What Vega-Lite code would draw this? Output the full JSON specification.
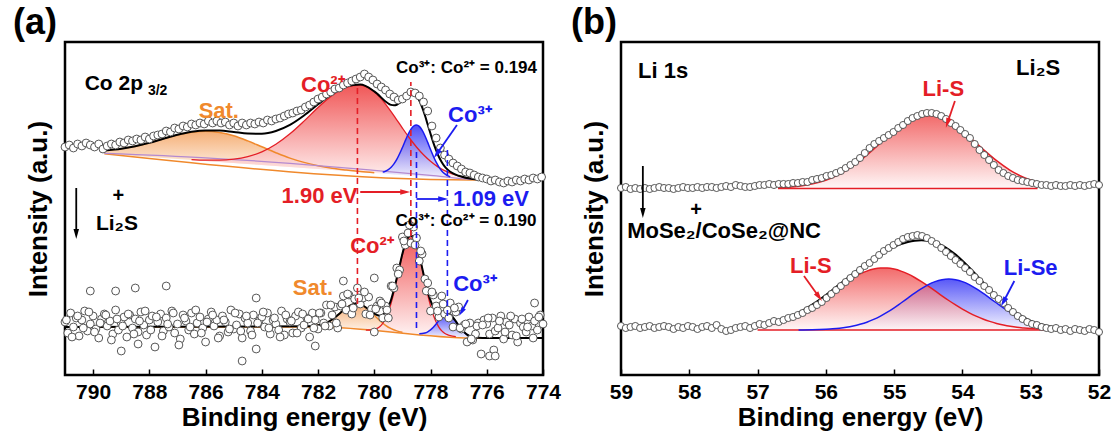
{
"$schema": "https://vega.github.io/schema/vega-lite/v6.json",
"background": "white",
"padding": {"left": 11, "top": 3, "right": 0, "bottom": 0},
"config": {"font": "Liberation Sans", "view": {"stroke": "black", "strokeWidth": 2.5},
  "axis": {"domain": false, "grid": false, "minExtent": 0, "labelFont": "Liberation Sans", "labelFontWeight": "bold", "labelFontSize": 21, "labelColor": "black", "titleFont": "Liberation Sans", "titleFontSize": 26, "titleFontWeight": "bold", "titleColor": "black", "tickColor": "black", "tickWidth": 1.5}},
"spacing": 7,
"datasets": {
"a_pts": [
{"E":791.00,"h":228},{"E":790.85,"h":230},{"E":790.70,"h":227},{"E":790.55,"h":231},{"E":790.40,"h":229},{"E":790.25,"h":232},{"E":790.10,"h":230},{"E":789.95,"h":228},{"E":789.80,"h":231},{"E":789.65,"h":226},{"E":789.50,"h":229},{"E":789.35,"h":231},{"E":789.20,"h":230},{"E":789.05,"h":233},{"E":788.90,"h":232},{"E":788.75,"h":235},{"E":788.60,"h":234},{"E":788.45,"h":236},{"E":788.30,"h":235},{"E":788.15,"h":238},{"E":788.00,"h":236},{"E":787.85,"h":239},{"E":787.70,"h":240},{"E":787.55,"h":241},{"E":787.40,"h":244},{"E":787.25,"h":243},{"E":787.10,"h":247},{"E":786.95,"h":246},{"E":786.80,"h":249},{"E":786.65,"h":248},{"E":786.50,"h":251},{"E":786.35,"h":250},{"E":786.20,"h":252},{"E":786.05,"h":251},{"E":785.90,"h":254},{"E":785.75,"h":252},{"E":785.60,"h":254},{"E":785.45,"h":252},{"E":785.30,"h":253},{"E":785.15,"h":250},{"E":785.00,"h":252},{"E":784.85,"h":249},{"E":784.70,"h":252},{"E":784.55,"h":250},{"E":784.40,"h":252},{"E":784.25,"h":251},{"E":784.10,"h":253},{"E":783.95,"h":252},{"E":783.80,"h":255},{"E":783.65,"h":254},{"E":783.50,"h":256},{"E":783.35,"h":257},{"E":783.20,"h":259},{"E":783.05,"h":261},{"E":782.90,"h":262},{"E":782.75,"h":264},{"E":782.60,"h":265},{"E":782.45,"h":268},{"E":782.30,"h":270},{"E":782.15,"h":273},{"E":782.00,"h":276},{"E":781.85,"h":278},{"E":781.70,"h":281},{"E":781.55,"h":283},{"E":781.40,"h":286},{"E":781.25,"h":287},{"E":781.10,"h":290},{"E":780.95,"h":292},{"E":780.80,"h":294},{"E":780.65,"h":296},{"E":780.50,"h":298},{"E":780.35,"h":301},{"E":780.20,"h":298},{"E":780.05,"h":295},{"E":779.90,"h":291},{"E":779.75,"h":288},{"E":779.60,"h":285},{"E":779.45,"h":281},{"E":779.30,"h":278},{"E":779.15,"h":275},{"E":779.00,"h":276},{"E":778.85,"h":279},{"E":778.70,"h":283},{"E":778.55,"h":282},{"E":778.40,"h":279},{"E":778.25,"h":273},{"E":778.10,"h":264},{"E":777.95,"h":249},{"E":777.80,"h":237},{"E":777.65,"h":227},{"E":777.50,"h":220},{"E":777.35,"h":216},{"E":777.20,"h":212},{"E":777.05,"h":209},{"E":776.90,"h":206},{"E":776.75,"h":203},{"E":776.60,"h":202},{"E":776.45,"h":200},{"E":776.30,"h":198},{"E":776.15,"h":197},{"E":776.00,"h":196},{"E":775.85,"h":194},{"E":775.70,"h":195},{"E":775.55,"h":193},{"E":775.40,"h":192},{"E":775.25,"h":194},{"E":775.10,"h":193},{"E":774.95,"h":195},{"E":774.80,"h":194},{"E":774.65,"h":196},{"E":774.50,"h":195},{"E":774.35,"h":197},{"E":774.20,"h":196},{"E":774.05,"h":198},
{"E":791.0,"h":53},{"E":790.9,"h":42},{"E":790.8,"h":62},{"E":790.7,"h":48},{"E":790.6,"h":57},{"E":790.5,"h":39},{"E":790.4,"h":55},{"E":790.3,"h":64},{"E":790.2,"h":44},{"E":790.1,"h":51},{"E":790.0,"h":59},{"E":789.9,"h":46},{"E":789.8,"h":37},{"E":789.7,"h":56},{"E":789.6,"h":61},{"E":789.5,"h":49},{"E":789.4,"h":54},{"E":789.3,"h":41},{"E":789.2,"h":65},{"E":789.1,"h":45},{"E":789.0,"h":52},{"E":788.9,"h":58},{"E":788.8,"h":38},{"E":788.7,"h":60},{"E":788.6,"h":47},{"E":788.5,"h":56},{"E":788.4,"h":43},{"E":788.3,"h":63},{"E":788.2,"h":50},{"E":788.1,"h":40},{"E":788.0,"h":55},{"E":787.9,"h":59},{"E":787.8,"h":28},{"E":787.7,"h":53},{"E":787.6,"h":61},{"E":787.5,"h":44},{"E":787.4,"h":57},{"E":787.3,"h":48},{"E":787.2,"h":64},{"E":787.1,"h":42},{"E":787.0,"h":51},{"E":786.9,"h":36},{"E":786.8,"h":60},{"E":786.7,"h":54},{"E":786.6,"h":45},{"E":786.5,"h":62},{"E":786.4,"h":41},{"E":786.3,"h":52},{"E":786.2,"h":58},{"E":786.1,"h":47},{"E":786.0,"h":33},{"E":785.9,"h":56},{"E":785.8,"h":63},{"E":785.7,"h":49},{"E":785.6,"h":55},{"E":785.5,"h":39},{"E":785.4,"h":59},{"E":785.3,"h":53},{"E":785.2,"h":43},{"E":785.1,"h":65},{"E":785.0,"h":46},{"E":784.9,"h":50},{"E":784.8,"h":61},{"E":784.7,"h":37},{"E":784.6,"h":57},{"E":784.5,"h":52},{"E":784.4,"h":44},{"E":784.3,"h":60},{"E":784.2,"h":26},{"E":784.1,"h":54},{"E":784.0,"h":58},{"E":783.9,"h":48},{"E":783.8,"h":62},{"E":783.7,"h":41},{"E":783.6,"h":55},{"E":783.5,"h":51},{"E":783.4,"h":45},{"E":783.3,"h":64},{"E":783.2,"h":40},{"E":783.1,"h":56},{"E":783.0,"h":53},{"E":782.9,"h":42},{"E":782.8,"h":59},{"E":782.7,"h":63},{"E":782.6,"h":47},{"E":782.5,"h":50},{"E":782.4,"h":57},{"E":782.3,"h":38},{"E":782.2,"h":62},{"E":782.1,"h":55},{"E":782.0,"h":46},{"E":781.9,"h":62},{"E":781.8,"h":52},{"E":781.7,"h":70},{"E":781.6,"h":49},{"E":781.5,"h":60},{"E":781.4,"h":68},{"E":781.3,"h":47},{"E":781.2,"h":69},{"E":781.1,"h":79},{"E":781.0,"h":65},{"E":780.9,"h":80},{"E":780.8,"h":61},{"E":780.7,"h":76},{"E":780.6,"h":87},{"E":780.5,"h":71},{"E":780.4,"h":77},{"E":780.3,"h":61},{"E":780.2,"h":78},{"E":780.1,"h":66},{"E":780.0,"h":43},{"E":779.9,"h":69},{"E":779.8,"h":74},{"E":779.7,"h":57},{"E":779.6,"h":69},{"E":779.5,"h":57},{"E":779.4,"h":89},{"E":779.3,"h":87},{"E":779.2,"h":107},{"E":779.1,"h":105},{"E":779.0,"h":138},{"E":778.9,"h":130},{"E":778.8,"h":142},{"E":778.7,"h":132},{"E":778.6,"h":148},{"E":778.5,"h":137},{"E":778.4,"h":114},{"E":778.3,"h":121},{"E":778.2,"h":96},{"E":778.1,"h":92},{"E":778.0,"h":64},{"E":777.9,"h":80},{"E":777.8,"h":69},{"E":777.7,"h":58},{"E":777.6,"h":79},{"E":777.5,"h":61},{"E":777.4,"h":65},{"E":777.3,"h":72},{"E":777.2,"h":48},{"E":777.1,"h":63},{"E":777.0,"h":68},{"E":776.9,"h":46},{"E":776.8,"h":50},{"E":776.7,"h":33},{"E":776.6,"h":52},{"E":776.5,"h":35},{"E":776.4,"h":41},{"E":776.3,"h":52},{"E":776.2,"h":21},{"E":776.1,"h":55},{"E":776.0,"h":51},{"E":775.9,"h":41},{"E":775.8,"h":57},{"E":775.7,"h":44},{"E":775.6,"h":47},{"E":775.5,"h":59},{"E":775.4,"h":36},{"E":775.3,"h":53},{"E":775.2,"h":50},{"E":775.1,"h":40},{"E":775.0,"h":56},{"E":774.9,"h":33},{"E":774.8,"h":52},{"E":774.7,"h":48},{"E":774.6,"h":43},{"E":774.5,"h":58},{"E":774.4,"h":49},{"E":774.3,"h":54},{"E":774.2,"h":45},{"E":774.1,"h":60},{"E":774.0,"h":51},
{"E":790.95,"h":55},{"E":790.75,"h":38},{"E":790.55,"h":59},{"E":790.35,"h":47},{"E":790.15,"h":63},{"E":789.95,"h":43},{"E":789.75,"h":52},{"E":789.55,"h":60},{"E":789.35,"h":35},{"E":789.15,"h":56},{"E":788.95,"h":49},{"E":788.75,"h":61},{"E":788.55,"h":41},{"E":788.35,"h":54},{"E":788.15,"h":64},{"E":787.95,"h":45},{"E":787.75,"h":58},{"E":787.55,"h":39},{"E":787.35,"h":51},{"E":787.15,"h":62},{"E":786.95,"h":30},{"E":786.75,"h":57},{"E":786.55,"h":48},{"E":786.35,"h":65},{"E":786.15,"h":42},{"E":785.95,"h":53},{"E":785.75,"h":60},{"E":785.55,"h":37},{"E":785.35,"h":55},{"E":785.15,"h":46},{"E":784.95,"h":62},{"E":784.75,"h":44},{"E":784.55,"h":59},{"E":784.35,"h":40},{"E":784.15,"h":52},{"E":783.95,"h":63},{"E":783.75,"h":47},{"E":783.55,"h":57},{"E":783.35,"h":38},{"E":783.15,"h":60},{"E":782.95,"h":54},{"E":782.75,"h":42},{"E":782.55,"h":61},{"E":782.35,"h":56},{"E":782.15,"h":47},{"E":781.95,"h":62},{"E":781.75,"h":49},{"E":781.55,"h":70},{"E":781.35,"h":52},{"E":781.15,"h":71},{"E":780.95,"h":81},{"E":780.75,"h":67},{"E":780.55,"h":77},{"E":780.35,"h":83},{"E":780.15,"h":60},{"E":779.95,"h":66},{"E":779.75,"h":72},{"E":779.55,"h":65},{"E":779.35,"h":89},{"E":779.15,"h":101},{"E":778.95,"h":134},{"E":778.75,"h":150},{"E":778.55,"h":130},{"E":778.35,"h":124},{"E":778.15,"h":84},{"E":777.95,"h":83},{"E":777.75,"h":64},{"E":777.55,"h":71},{"E":777.35,"h":57},{"E":777.15,"h":67},{"E":776.95,"h":47},{"E":776.75,"h":51},{"E":776.55,"h":36},{"E":776.35,"h":49},{"E":776.15,"h":50},{"E":775.95,"h":57},{"E":775.75,"h":25},{"E":775.55,"h":54},{"E":775.35,"h":43},{"E":775.15,"h":59},{"E":774.95,"h":39},{"E":774.75,"h":56},{"E":774.55,"h":48},{"E":774.35,"h":37},{"E":774.15,"h":58},
{"E":790.1,"h":84},{"E":789.2,"h":84},{"E":788.5,"h":87},{"E":787.4,"h":89},{"E":784.2,"h":77},{"E":781.1,"h":94},{"E":780.0,"h":97},{"E":774.3,"h":72},{"E":789.0,"h":24},{"E":788.4,"h":31},{"E":784.7,"h":14},{"E":782.1,"h":29},{"E":775.9,"h":19},{"E":775.7,"h":19}
],
"a_fit": [
{"c":"bgT","E":789.6,"v":221.2},{"c":"bgT","E":776.5,"v":195},{"c":"bgT","E":776.0,"v":195},
{"c":"bg2T","E":789.6,"v":221.6},{"c":"bg2T","E":786.0,"v":217.2},{"c":"bg2T","E":783.0,"v":211.6},{"c":"bg2T","E":780.0,"v":204.6},{"c":"bg2T","E":778.0,"v":199.6},{"c":"bg2T","E":776.5,"v":195.6},{"c":"bg2T","E":776.0,"v":195.3},
{"c":"satT","E":789.6,"v":224.4,"b":221.2},{"c":"satT","E":789.0,"v":226.2,"b":220},{"c":"satT","E":788.5,"v":228.7,"b":219},{"c":"satT","E":788.0,"v":232.2,"b":218},{"c":"satT","E":787.5,"v":236.2,"b":217},{"c":"satT","E":787.0,"v":240.0,"b":216},{"c":"satT","E":786.5,"v":242.8,"b":215},{"c":"satT","E":786.0,"v":243.8,"b":214},{"c":"satT","E":785.5,"v":242.6,"b":213},{"c":"satT","E":785.0,"v":239.2,"b":212},{"c":"satT","E":784.5,"v":234.1,"b":211},{"c":"satT","E":784.0,"v":228.2,"b":210},{"c":"satT","E":783.5,"v":222.3,"b":209},{"c":"satT","E":783.0,"v":216.9,"b":208},{"c":"satT","E":782.5,"v":212.6,"b":207},{"c":"satT","E":782.0,"v":209.2,"b":206},{"c":"satT","E":781.5,"v":206.7,"b":205},{"c":"satT","E":781.0,"v":204.9,"b":204},{"c":"satT","E":780.5,"v":203.4,"b":203},{"c":"satT","E":780.0,"v":202.2,"b":202},
{"c":"co2T","E":786.5,"v":215.4,"b":215},{"c":"co2T","E":786.0,"v":214.8,"b":214},{"c":"co2T","E":785.5,"v":214.8,"b":213},{"c":"co2T","E":785.0,"v":215.8,"b":212},{"c":"co2T","E":784.5,"v":218.4,"b":211},{"c":"co2T","E":784.0,"v":223.1,"b":210},{"c":"co2T","E":783.5,"v":230.7,"b":209},{"c":"co2T","E":783.0,"v":241.2,"b":208},{"c":"co2T","E":782.5,"v":253.9,"b":207},{"c":"co2T","E":782.0,"v":267.5,"b":206},{"c":"co2T","E":781.5,"v":279.6,"b":205},{"c":"co2T","E":781.0,"v":287.7,"b":204},{"c":"co2T","E":780.5,"v":290.0,"b":203},{"c":"co2T","E":780.0,"v":283.2,"b":202},{"c":"co2T","E":779.75,"v":276.1,"b":201.5},{"c":"co2T","E":779.5,"v":267.1,"b":201},{"c":"co2T","E":779.25,"v":257.2,"b":200.5},{"c":"co2T","E":779.0,"v":246.9,"b":200},{"c":"co2T","E":778.75,"v":237.0,"b":199.5},{"c":"co2T","E":778.5,"v":228.0,"b":199},{"c":"co2T","E":778.25,"v":220.2,"b":198.5},{"c":"co2T","E":778.0,"v":213.7,"b":198},{"c":"co2T","E":777.75,"v":208.4,"b":197.5},{"c":"co2T","E":777.5,"v":204.4,"b":197},{"c":"co2T","E":777.0,"v":199.0,"b":196},{"c":"co2T","E":776.5,"v":196.1,"b":195},{"c":"co2T","E":776.0,"v":195.3,"b":195},
{"c":"co3T","E":779.7,"v":202.9,"b":201.4},{"c":"co3T","E":779.6,"v":203.8,"b":201.2},{"c":"co3T","E":779.5,"v":205.3,"b":201.0},{"c":"co3T","E":779.4,"v":207.7,"b":200.8},{"c":"co3T","E":779.3,"v":211.1,"b":200.6},{"c":"co3T","E":779.2,"v":215.6,"b":200.4},{"c":"co3T","E":779.1,"v":221.2,"b":200.2},{"c":"co3T","E":779.0,"v":227.5,"b":200.0},{"c":"co3T","E":778.9,"v":234.2,"b":199.8},{"c":"co3T","E":778.8,"v":240.5,"b":199.6},{"c":"co3T","E":778.7,"v":245.6,"b":199.4},{"c":"co3T","E":778.6,"v":249.0,"b":199.2},{"c":"co3T","E":778.5,"v":250.0,"b":199.0},{"c":"co3T","E":778.4,"v":248.6,"b":198.8},{"c":"co3T","E":778.3,"v":244.8,"b":198.6},{"c":"co3T","E":778.2,"v":239.3,"b":198.4},{"c":"co3T","E":778.1,"v":232.6,"b":198.2},{"c":"co3T","E":778.0,"v":225.5,"b":198.0},{"c":"co3T","E":777.9,"v":218.8,"b":197.8},{"c":"co3T","E":777.8,"v":212.8,"b":197.6},{"c":"co3T","E":777.7,"v":207.9,"b":197.4},{"c":"co3T","E":777.6,"v":204.1,"b":197.2},{"c":"co3T","E":777.5,"v":201.3,"b":197.0},{"c":"co3T","E":777.4,"v":199.4,"b":196.8},{"c":"co3T","E":777.3,"v":198.1,"b":196.6},
{"c":"envT","E":789.6,"v":224.4},{"c":"envT","E":789.0,"v":226.2},{"c":"envT","E":788.5,"v":228.7},{"c":"envT","E":788.0,"v":232.2},{"c":"envT","E":787.5,"v":236.3},{"c":"envT","E":787.0,"v":240.2},{"c":"envT","E":786.5,"v":243.2},{"c":"envT","E":786.0,"v":244.6},{"c":"envT","E":785.5,"v":244.4},{"c":"envT","E":785.0,"v":243.0},{"c":"envT","E":784.5,"v":241.5},{"c":"envT","E":784.0,"v":241.3},{"c":"envT","E":783.5,"v":244.0},{"c":"envT","E":783.0,"v":250.1},{"c":"envT","E":782.5,"v":259.5},{"c":"envT","E":782.0,"v":270.7},{"c":"envT","E":781.5,"v":281.3},{"c":"envT","E":781.0,"v":288.6},{"c":"envT","E":780.5,"v":290.4},{"c":"envT","E":780.0,"v":283.6},{"c":"envT","E":779.5,"v":271.5},{"c":"envT","E":779.4,"v":270.1},{"c":"envT","E":779.3,"v":269.7},{"c":"envT","E":779.2,"v":270.3},{"c":"envT","E":779.1,"v":272.0},{"c":"envT","E":779.0,"v":274.4},{"c":"envT","E":778.9,"v":277.3},{"c":"envT","E":778.8,"v":279.9},{"c":"envT","E":778.7,"v":281.4},{"c":"envT","E":778.6,"v":281.3},{"c":"envT","E":778.5,"v":279.0},{"c":"envT","E":778.4,"v":274.5},{"c":"envT","E":778.3,"v":267.9},{"c":"envT","E":778.2,"v":259.7},{"c":"envT","E":778.1,"v":250.5},{"c":"envT","E":778.0,"v":241.2},{"c":"envT","E":777.9,"v":232.4},{"c":"envT","E":777.8,"v":224.6},{"c":"envT","E":777.7,"v":218.0},{"c":"envT","E":777.6,"v":212.8},{"c":"envT","E":777.5,"v":208.7},{"c":"envT","E":777.4,"v":205.6},{"c":"envT","E":777.2,"v":201.6},{"c":"envT","E":777.0,"v":199.2},{"c":"envT","E":776.5,"v":196.1},{"c":"envT","E":776.0,"v":195.3},{"c":"envT","E":775.5,"v":195.1},{"c":"envT","E":774.0,"v":195.0},
{"c":"bgB","E":791.0,"v":48},{"c":"bgB","E":782.0,"v":48},{"c":"bgB","E":776.5,"v":37},{"c":"bgB","E":774.0,"v":37},
{"c":"satB","E":782.2,"v":48.7,"b":48},{"c":"satB","E":782.0,"v":49.7,"b":48},{"c":"satB","E":781.8,"v":51.1,"b":47.6},{"c":"satB","E":781.6,"v":53.7,"b":47.2},{"c":"satB","E":781.4,"v":57.5,"b":46.8},{"c":"satB","E":781.2,"v":62.2,"b":46.4},{"c":"satB","E":781.0,"v":66.8,"b":46.0},{"c":"satB","E":780.8,"v":70.2,"b":45.6},{"c":"satB","E":780.6,"v":71.2,"b":45.2},{"c":"satB","E":780.4,"v":69.4,"b":44.8},{"c":"satB","E":780.2,"v":65.2,"b":44.4},{"c":"satB","E":780.0,"v":59.8,"b":44.0},{"c":"satB","E":779.8,"v":54.3,"b":43.6},{"c":"satB","E":779.6,"v":49.7,"b":43.2},{"c":"satB","E":779.4,"v":46.3,"b":42.8},{"c":"satB","E":779.2,"v":44.1,"b":42.4},{"c":"satB","E":779.0,"v":42.7,"b":42.0},
{"c":"co2B","E":780.3,"v":44.8,"b":44.6},{"c":"co2B","E":780.1,"v":45.0,"b":44.2},{"c":"co2B","E":780.0,"v":45.5,"b":44.0},{"c":"co2B","E":779.9,"v":46.6,"b":43.8},{"c":"co2B","E":779.8,"v":48.5,"b":43.6},{"c":"co2B","E":779.7,"v":51.7,"b":43.4},{"c":"co2B","E":779.6,"v":56.5,"b":43.2},{"c":"co2B","E":779.5,"v":63.2,"b":43.0},{"c":"co2B","E":779.4,"v":72.0,"b":42.8},{"c":"co2B","E":779.3,"v":82.9,"b":42.6},{"c":"co2B","E":779.2,"v":95.3,"b":42.4},{"c":"co2B","E":779.1,"v":108.2,"b":42.2},{"c":"co2B","E":779.0,"v":120.5,"b":42.0},{"c":"co2B","E":778.9,"v":130.6,"b":41.8},{"c":"co2B","E":778.8,"v":137.2,"b":41.6},{"c":"co2B","E":778.7,"v":139.4,"b":41.4},{"c":"co2B","E":778.6,"v":136.8,"b":41.2},{"c":"co2B","E":778.5,"v":129.8,"b":41.0},{"c":"co2B","E":778.4,"v":119.3,"b":40.8},{"c":"co2B","E":778.3,"v":106.6,"b":40.6},{"c":"co2B","E":778.2,"v":93.3,"b":40.4},{"c":"co2B","E":778.1,"v":80.5,"b":40.2},{"c":"co2B","E":778.0,"v":69.2,"b":40.0},{"c":"co2B","E":777.9,"v":60.0,"b":39.8},{"c":"co2B","E":777.8,"v":52.9,"b":39.6},{"c":"co2B","E":777.7,"v":47.7,"b":39.4},{"c":"co2B","E":777.6,"v":44.1,"b":39.2},{"c":"co2B","E":777.5,"v":41.8,"b":39.0},{"c":"co2B","E":777.4,"v":40.3,"b":38.8},{"c":"co2B","E":777.3,"v":39.4,"b":38.6},{"c":"co2B","E":777.1,"v":38.4,"b":38.2},
{"c":"co3B","E":778.4,"v":41.2,"b":40.8},{"c":"co3B","E":778.3,"v":41.4,"b":40.6},{"c":"co3B","E":778.2,"v":42.0,"b":40.4},{"c":"co3B","E":778.1,"v":43.2,"b":40.2},{"c":"co3B","E":778.0,"v":45.1,"b":40.0},{"c":"co3B","E":777.9,"v":47.7,"b":39.8},{"c":"co3B","E":777.8,"v":51.0,"b":39.6},{"c":"co3B","E":777.7,"v":54.6,"b":39.4},{"c":"co3B","E":777.6,"v":57.9,"b":39.2},{"c":"co3B","E":777.5,"v":60.1,"b":39.0},{"c":"co3B","E":777.4,"v":60.8,"b":38.8},{"c":"co3B","E":777.3,"v":59.7,"b":38.6},{"c":"co3B","E":777.2,"v":57.1,"b":38.4},{"c":"co3B","E":777.1,"v":53.4,"b":38.2},{"c":"co3B","E":777.0,"v":49.4,"b":38.0},{"c":"co3B","E":776.9,"v":45.7,"b":37.8},{"c":"co3B","E":776.8,"v":42.7,"b":37.6},{"c":"co3B","E":776.7,"v":40.4,"b":37.4},{"c":"co3B","E":776.6,"v":38.8,"b":37.2},{"c":"co3B","E":776.5,"v":37.8,"b":37.0},{"c":"co3B","E":776.4,"v":37.4,"b":37.0},
{"c":"envB","E":791.0,"v":48},{"c":"envB","E":782.2,"v":48.7},{"c":"envB","E":782.0,"v":49.7},{"c":"envB","E":781.8,"v":51.1},{"c":"envB","E":781.6,"v":53.7},{"c":"envB","E":781.4,"v":57.5},{"c":"envB","E":781.2,"v":62.2},{"c":"envB","E":781.0,"v":66.8},{"c":"envB","E":780.8,"v":70.2},{"c":"envB","E":780.6,"v":71.2},{"c":"envB","E":780.4,"v":69.4},{"c":"envB","E":780.2,"v":65.6},{"c":"envB","E":780.0,"v":61.3},{"c":"envB","E":779.8,"v":59.2},{"c":"envB","E":779.7,"v":60.1},{"c":"envB","E":779.6,"v":63.0},{"c":"envB","E":779.5,"v":68.0},{"c":"envB","E":779.4,"v":75.5},{"c":"envB","E":779.3,"v":85.4},{"c":"envB","E":779.2,"v":97.0},{"c":"envB","E":779.1,"v":109.3},{"c":"envB","E":779.0,"v":121.2},{"c":"envB","E":778.9,"v":131.1},{"c":"envB","E":778.8,"v":137.5},{"c":"envB","E":778.7,"v":139.6},{"c":"envB","E":778.6,"v":136.9},{"c":"envB","E":778.5,"v":130.0},{"c":"envB","E":778.4,"v":119.7},{"c":"envB","E":778.3,"v":107.4},{"c":"envB","E":778.2,"v":94.9},{"c":"envB","E":778.1,"v":83.5},{"c":"envB","E":778.0,"v":74.3},{"c":"envB","E":777.9,"v":67.9},{"c":"envB","E":777.8,"v":64.3},{"c":"envB","E":777.7,"v":62.9},{"c":"envB","E":777.6,"v":62.8},{"c":"envB","E":777.5,"v":62.9},{"c":"envB","E":777.4,"v":62.3},{"c":"envB","E":777.3,"v":60.5},{"c":"envB","E":777.2,"v":57.5},{"c":"envB","E":777.1,"v":53.6},{"c":"envB","E":777.0,"v":49.5},{"c":"envB","E":776.9,"v":45.7},{"c":"envB","E":776.8,"v":42.7},{"c":"envB","E":776.7,"v":40.4},{"c":"envB","E":776.6,"v":38.8},{"c":"envB","E":776.5,"v":37.8},{"c":"envB","E":776.3,"v":37.2},{"c":"envB","E":776.0,"v":37.0},{"c":"envB","E":774.0,"v":37.0}
],
"a_dash": [
{"sp":"Co²⁺","E":780.6,"h1":71,"h2":290},{"sp":"Co²⁺","E":778.7,"h1":139,"h2":293},{"sp":"Co³⁺","E":778.5,"h1":47,"h2":224},{"sp":"Co³⁺","E":777.4,"h1":59,"h2":226}
],
"a_arr": [
{"id":"red","sp":"Co²⁺","E1":780.5,"h1":183,"E2":778.9,"h2":183},
{"id":"blue","sp":"Co³⁺","E1":778.5,"h1":176,"E2":777.55,"h2":176},
{"id":"down","sp":"none","E1":790.6,"h1":187,"E2":790.6,"h2":141},
{"id":"c3t","sp":"Co³⁺","E1":777.06,"h1":250,"E2":777.78,"h2":221},
{"id":"c3b","sp":"Co³⁺","E1":776.67,"h1":75,"E2":776.9,"h2":63}
],
"a_text": [
{"k":"left","sp":"none","E":790.3,"h":291,"t":"Co 2p"},
{"k":"sub","sp":"none","E":788.05,"h":284,"t":"3/2"},
{"k":"left","sp":"none","E":789.9,"h":151,"t":"Li₂S"},
{"k":"center","sp":"Sat.","E":785.53,"h":264,"t":"Sat."},
{"k":"center","sp":"Co²⁺","E":781.83,"h":290,"t":"Co²⁺"},
{"k":"center","sp":"Co³⁺","E":776.6,"h":260,"t":"Co³⁺"},
{"k":"center","sp":"Co²⁺","E":781.95,"h":179,"t":"1.90 eV"},
{"k":"center","sp":"Co³⁺","E":775.85,"h":176,"t":"1.09 eV"},
{"k":"center","sp":"Co²⁺","E":780.08,"h":129,"t":"Co²⁺"},
{"k":"center","sp":"Sat.","E":782.18,"h":87,"t":"Sat."},
{"k":"center","sp":"Co³⁺","E":776.42,"h":91,"t":"Co³⁺"},
{"k":"ratio","sp":"none","E":776.72,"h":307,"t":"Co³⁺: Co²⁺ = 0.194"},
{"k":"ratio","sp":"none","E":776.74,"h":154,"t":"Co³⁺: Co²⁺ = 0.190"},
{"k":"plus","sp":"none","E":789.1,"h":179,"t":"+"}
],
"b_pts": [
{"E":59.00,"h":187},{"E":58.93,"h":188},{"E":58.86,"h":186},{"E":58.79,"h":187},{"E":58.72,"h":186},{"E":58.65,"h":187},{"E":58.58,"h":186},{"E":58.51,"h":187},{"E":58.44,"h":188},{"E":58.37,"h":187},{"E":58.30,"h":187},{"E":58.23,"h":186},{"E":58.16,"h":187},{"E":58.09,"h":188},{"E":58.02,"h":187},{"E":57.95,"h":187},{"E":57.88,"h":188},{"E":57.81,"h":187},{"E":57.74,"h":188},{"E":57.67,"h":188},{"E":57.60,"h":187},{"E":57.53,"h":188},{"E":57.46,"h":189},{"E":57.39,"h":188},{"E":57.32,"h":190},{"E":57.25,"h":189},{"E":57.18,"h":188},{"E":57.11,"h":188},{"E":57.04,"h":189},{"E":56.97,"h":190},{"E":56.90,"h":190},{"E":56.83,"h":191},{"E":56.76,"h":190},{"E":56.69,"h":191},{"E":56.62,"h":191},{"E":56.55,"h":191},{"E":56.48,"h":192},{"E":56.41,"h":192},{"E":56.34,"h":193},{"E":56.27,"h":193},{"E":56.20,"h":195},{"E":56.13,"h":196},{"E":56.06,"h":197},{"E":55.99,"h":199},{"E":55.92,"h":200},{"E":55.85,"h":202},{"E":55.78,"h":204},{"E":55.71,"h":207},{"E":55.64,"h":210},{"E":55.57,"h":213},{"E":55.50,"h":217},{"E":55.43,"h":222},{"E":55.36,"h":227},{"E":55.29,"h":231},{"E":55.22,"h":234},{"E":55.15,"h":237},{"E":55.08,"h":240},{"E":55.01,"h":243},{"E":54.94,"h":247},{"E":54.87,"h":250},{"E":54.80,"h":254},{"E":54.73,"h":257},{"E":54.66,"h":259},{"E":54.59,"h":261},{"E":54.52,"h":262},{"E":54.45,"h":262},{"E":54.38,"h":261},{"E":54.31,"h":259},{"E":54.24,"h":256},{"E":54.17,"h":252},{"E":54.10,"h":249},{"E":54.03,"h":245},{"E":53.96,"h":241},{"E":53.89,"h":237},{"E":53.82,"h":231},{"E":53.75,"h":225},{"E":53.68,"h":220},{"E":53.61,"h":215},{"E":53.54,"h":210},{"E":53.47,"h":205},{"E":53.40,"h":202},{"E":53.33,"h":199},{"E":53.26,"h":197},{"E":53.19,"h":195},{"E":53.12,"h":194},{"E":53.05,"h":193},{"E":52.98,"h":192},{"E":52.91,"h":191},{"E":52.84,"h":190},{"E":52.77,"h":190},{"E":52.70,"h":189},{"E":52.63,"h":190},{"E":52.56,"h":189},{"E":52.49,"h":189},{"E":52.42,"h":190},{"E":52.35,"h":189},{"E":52.28,"h":190},{"E":52.21,"h":189},{"E":52.14,"h":190},{"E":52.07,"h":191},{"E":52.00,"h":190},
{"E":59.00,"h":49},{"E":58.93,"h":47},{"E":58.86,"h":48},{"E":58.79,"h":49},{"E":58.72,"h":47},{"E":58.65,"h":48},{"E":58.58,"h":49},{"E":58.51,"h":47},{"E":58.44,"h":48},{"E":58.37,"h":49},{"E":58.30,"h":48},{"E":58.23,"h":46},{"E":58.16,"h":48},{"E":58.09,"h":47},{"E":58.02,"h":49},{"E":57.95,"h":48},{"E":57.88,"h":46},{"E":57.81,"h":48},{"E":57.74,"h":49},{"E":57.67,"h":47},{"E":57.60,"h":50},{"E":57.53,"h":46},{"E":57.46,"h":44},{"E":57.39,"h":45},{"E":57.32,"h":47},{"E":57.25,"h":48},{"E":57.18,"h":49},{"E":57.11,"h":47},{"E":57.04,"h":49},{"E":56.97,"h":51},{"E":56.90,"h":50},{"E":56.83,"h":52},{"E":56.76,"h":54},{"E":56.69,"h":53},{"E":56.62,"h":55},{"E":56.55,"h":57},{"E":56.48,"h":58},{"E":56.41,"h":60},{"E":56.34,"h":62},{"E":56.27,"h":65},{"E":56.20,"h":67},{"E":56.13,"h":70},{"E":56.06,"h":73},{"E":55.99,"h":77},{"E":55.92,"h":81},{"E":55.85,"h":85},{"E":55.78,"h":89},{"E":55.71,"h":93},{"E":55.64,"h":97},{"E":55.57,"h":101},{"E":55.50,"h":105},{"E":55.43,"h":109},{"E":55.36,"h":112},{"E":55.29,"h":116},{"E":55.22,"h":120},{"E":55.15,"h":124},{"E":55.08,"h":127},{"E":55.01,"h":130},{"E":54.94,"h":133},{"E":54.87,"h":136},{"E":54.80,"h":138},{"E":54.73,"h":139},{"E":54.66,"h":140},{"E":54.59,"h":139},{"E":54.52,"h":137},{"E":54.45,"h":134},{"E":54.38,"h":131},{"E":54.31,"h":127},{"E":54.24,"h":123},{"E":54.17,"h":119},{"E":54.10,"h":115},{"E":54.03,"h":111},{"E":53.96,"h":107},{"E":53.89,"h":103},{"E":53.82,"h":98},{"E":53.75,"h":94},{"E":53.68,"h":89},{"E":53.61,"h":85},{"E":53.54,"h":80},{"E":53.47,"h":76},{"E":53.40,"h":72},{"E":53.33,"h":67},{"E":53.26,"h":63},{"E":53.19,"h":59},{"E":53.12,"h":56},{"E":53.05,"h":53},{"E":52.98,"h":51},{"E":52.91,"h":50},{"E":52.84,"h":48},{"E":52.77,"h":47},{"E":52.70,"h":46},{"E":52.63,"h":47},{"E":52.56,"h":45},{"E":52.49,"h":46},{"E":52.42,"h":44},{"E":52.35,"h":46},{"E":52.28,"h":45},{"E":52.21,"h":44},{"E":52.14,"h":46},{"E":52.07,"h":45},{"E":52.00,"h":43}
],
"b_fit": [
{"c":"bgT","E":56.7,"v":186.5},{"c":"bgT","E":52.9,"v":186.5},
{"c":"lisT","E":56.7,"v":187.2,"b":186.5},{"c":"lisT","E":56.5,"v":188.0,"b":186.5},{"c":"lisT","E":56.3,"v":189.7,"b":186.5},{"c":"lisT","E":56.1,"v":192.7,"b":186.5},{"c":"lisT","E":55.9,"v":197.5,"b":186.5},{"c":"lisT","E":55.7,"v":204.7,"b":186.5},{"c":"lisT","E":55.5,"v":214.3,"b":186.5},{"c":"lisT","E":55.3,"v":225.9,"b":186.5},{"c":"lisT","E":55.1,"v":238.1,"b":186.5},{"c":"lisT","E":54.9,"v":249.1,"b":186.5},{"c":"lisT","E":54.7,"v":256.7,"b":186.5},{"c":"lisT","E":54.5,"v":259.5,"b":186.5},{"c":"lisT","E":54.3,"v":256.7,"b":186.5},{"c":"lisT","E":54.1,"v":249.1,"b":186.5},{"c":"lisT","E":53.9,"v":238.1,"b":186.5},{"c":"lisT","E":53.7,"v":225.9,"b":186.5},{"c":"lisT","E":53.5,"v":214.3,"b":186.5},{"c":"lisT","E":53.3,"v":204.7,"b":186.5},{"c":"lisT","E":53.1,"v":197.5,"b":186.5},{"c":"lisT","E":52.9,"v":192.7,"b":186.5},
{"c":"bgB","E":57.0,"v":45},{"c":"bgB","E":52.8,"v":45},
{"c":"lisB","E":57.0,"v":48.7,"b":45},{"c":"lisB","E":56.9,"v":50.0,"b":45},{"c":"lisB","E":56.8,"v":51.6,"b":45},{"c":"lisB","E":56.7,"v":53.6,"b":45},{"c":"lisB","E":56.6,"v":56.0,"b":45},{"c":"lisB","E":56.5,"v":58.9,"b":45},{"c":"lisB","E":56.4,"v":62.2,"b":45},{"c":"lisB","E":56.3,"v":65.9,"b":45},{"c":"lisB","E":56.2,"v":70.1,"b":45},{"c":"lisB","E":56.1,"v":74.5,"b":45},{"c":"lisB","E":56.0,"v":79.2,"b":45},{"c":"lisB","E":55.9,"v":84.1,"b":45},{"c":"lisB","E":55.8,"v":88.8,"b":45},{"c":"lisB","E":55.7,"v":93.3,"b":45},{"c":"lisB","E":55.6,"v":97.5,"b":45},{"c":"lisB","E":55.5,"v":101.1,"b":45},{"c":"lisB","E":55.4,"v":103.9,"b":45},{"c":"lisB","E":55.3,"v":105.9,"b":45},{"c":"lisB","E":55.2,"v":106.9,"b":45},{"c":"lisB","E":55.1,"v":106.9,"b":45},{"c":"lisB","E":55.0,"v":105.9,"b":45},{"c":"lisB","E":54.9,"v":103.9,"b":45},{"c":"lisB","E":54.8,"v":101.1,"b":45},{"c":"lisB","E":54.7,"v":97.5,"b":45},{"c":"lisB","E":54.6,"v":93.3,"b":45},{"c":"lisB","E":54.5,"v":88.8,"b":45},{"c":"lisB","E":54.4,"v":84.1,"b":45},{"c":"lisB","E":54.3,"v":79.2,"b":45},{"c":"lisB","E":54.2,"v":74.5,"b":45},{"c":"lisB","E":54.1,"v":70.1,"b":45},{"c":"lisB","E":54.0,"v":65.9,"b":45},{"c":"lisB","E":53.9,"v":62.2,"b":45},{"c":"lisB","E":53.8,"v":58.9,"b":45},{"c":"lisB","E":53.7,"v":56.0,"b":45},{"c":"lisB","E":53.6,"v":53.6,"b":45},{"c":"lisB","E":53.5,"v":51.6,"b":45},{"c":"lisB","E":53.4,"v":50.0,"b":45},{"c":"lisB","E":53.3,"v":48.7,"b":45},{"c":"lisB","E":53.2,"v":47.7,"b":45},{"c":"lisB","E":53.1,"v":47.0,"b":45},{"c":"lisB","E":53.0,"v":46.4,"b":45},{"c":"lisB","E":52.9,"v":46.0,"b":45},{"c":"lisB","E":52.8,"v":45.7,"b":45},
{"c":"liseB","E":56.4,"v":45.1,"b":45},{"c":"liseB","E":56.2,"v":45.3,"b":45},{"c":"liseB","E":56.0,"v":45.8,"b":45},{"c":"liseB","E":55.9,"v":46.2,"b":45},{"c":"liseB","E":55.8,"v":46.8,"b":45},{"c":"liseB","E":55.7,"v":47.7,"b":45},{"c":"liseB","E":55.6,"v":49.0,"b":45},{"c":"liseB","E":55.5,"v":50.7,"b":45},{"c":"liseB","E":55.4,"v":52.8,"b":45},{"c":"liseB","E":55.3,"v":55.6,"b":45},{"c":"liseB","E":55.2,"v":58.9,"b":45},{"c":"liseB","E":55.1,"v":62.8,"b":45},{"c":"liseB","E":55.0,"v":67.2,"b":45},{"c":"liseB","E":54.9,"v":72.0,"b":45},{"c":"liseB","E":54.8,"v":76.9,"b":45},{"c":"liseB","E":54.7,"v":81.8,"b":45},{"c":"liseB","E":54.6,"v":86.4,"b":45},{"c":"liseB","E":54.5,"v":90.4,"b":45},{"c":"liseB","E":54.4,"v":93.4,"b":45},{"c":"liseB","E":54.3,"v":95.3,"b":45},{"c":"liseB","E":54.2,"v":96.0,"b":45},{"c":"liseB","E":54.1,"v":95.3,"b":45},{"c":"liseB","E":54.0,"v":93.4,"b":45},{"c":"liseB","E":53.9,"v":90.4,"b":45},{"c":"liseB","E":53.8,"v":86.4,"b":45},{"c":"liseB","E":53.7,"v":81.8,"b":45},{"c":"liseB","E":53.6,"v":76.9,"b":45},{"c":"liseB","E":53.5,"v":72.0,"b":45},{"c":"liseB","E":53.4,"v":67.2,"b":45},{"c":"liseB","E":53.3,"v":62.8,"b":45},{"c":"liseB","E":53.2,"v":58.9,"b":45},{"c":"liseB","E":53.1,"v":55.6,"b":45},{"c":"liseB","E":53.0,"v":52.8,"b":45},{"c":"liseB","E":52.9,"v":50.7,"b":45},{"c":"liseB","E":52.8,"v":49.0,"b":45},{"c":"liseB","E":52.7,"v":47.7,"b":45},{"c":"liseB","E":52.6,"v":46.8,"b":45},{"c":"liseB","E":52.4,"v":45.8,"b":45},{"c":"liseB","E":52.2,"v":45.3,"b":45},
{"c":"envB","E":57.0,"v":48.7},{"c":"envB","E":56.9,"v":50.0},{"c":"envB","E":56.8,"v":51.6},{"c":"envB","E":56.7,"v":53.6},{"c":"envB","E":56.6,"v":56.0},{"c":"envB","E":56.5,"v":59.0},{"c":"envB","E":56.4,"v":62.3},{"c":"envB","E":56.3,"v":66.1},{"c":"envB","E":56.2,"v":70.4},{"c":"envB","E":56.1,"v":75.0},{"c":"envB","E":56.0,"v":80.0},{"c":"envB","E":55.9,"v":85.3},{"c":"envB","E":55.8,"v":90.6},{"c":"envB","E":55.7,"v":96.0},{"c":"envB","E":55.6,"v":101.5},{"c":"envB","E":55.5,"v":106.8},{"c":"envB","E":55.4,"v":111.7},{"c":"envB","E":55.3,"v":116.5},{"c":"envB","E":55.2,"v":120.8},{"c":"envB","E":55.1,"v":124.7},{"c":"envB","E":55.0,"v":128.1},{"c":"envB","E":54.9,"v":130.9},{"c":"envB","E":54.8,"v":133.0},{"c":"envB","E":54.7,"v":134.3},{"c":"envB","E":54.6,"v":134.7},{"c":"envB","E":54.5,"v":134.2},{"c":"envB","E":54.4,"v":132.5},{"c":"envB","E":54.3,"v":129.5},{"c":"envB","E":54.2,"v":125.5},{"c":"envB","E":54.1,"v":120.4},{"c":"envB","E":54.0,"v":114.3},{"c":"envB","E":53.9,"v":107.6},{"c":"envB","E":53.8,"v":100.3},{"c":"envB","E":53.7,"v":92.8},{"c":"envB","E":53.6,"v":85.5},{"c":"envB","E":53.5,"v":78.6},{"c":"envB","E":53.4,"v":72.2},{"c":"envB","E":53.3,"v":66.5},{"c":"envB","E":53.2,"v":61.6},{"c":"envB","E":53.1,"v":57.6},{"c":"envB","E":53.0,"v":54.2},{"c":"envB","E":52.9,"v":51.7},{"c":"envB","E":52.8,"v":49.7},{"c":"envB","E":52.7,"v":48.2},{"c":"envB","E":52.6,"v":47.1},{"c":"envB","E":52.4,"v":45.9},{"c":"envB","E":52.2,"v":45.3}
],
"b_arr": [
{"id":"down","sp":"none","E1":58.68,"h1":209,"E2":58.68,"h2":162},
{"id":"lisT","sp":"Li-S","E1":54.11,"h1":274,"E2":54.22,"h2":252},
{"id":"lisB","sp":"Li-S","E1":56.32,"h1":99,"E2":56.10,"h2":78},
{"id":"lise","sp":"Li-Se","E1":53.24,"h1":94,"E2":53.40,"h2":73}
],
"b_text": [
{"k":"left","sp":"none","E":58.75,"h":304,"t":"Li 1s"},
{"k":"right","sp":"none","E":52.57,"h":307,"t":"Li₂S"},
{"k":"center","sp":"Li-S","E":54.28,"h":286,"t":"Li-S"},
{"k":"left","sp":"none","E":58.91,"h":144,"t":"MoSe₂/CoSe₂@NC"},
{"k":"center","sp":"Li-S","E":56.22,"h":109,"t":"Li-S"},
{"k":"center","sp":"Li-Se","E":53.0,"h":107,"t":"Li-Se"},
{"k":"plus","sp":"none","E":57.9,"h":165,"t":"+"}
]
},
"hconcat": [
{
"width": 478, "height": 333,
"title": {"text": "(a)", "anchor": "start", "frame": "group", "dx": -52, "offset": 0, "fontSize": 36, "fontWeight": "bold", "font": "Liberation Sans", "color": "black"},
"layer": [
{"data": {"name": "a_fit"}, "transform": [{"filter": {"field": "c", "oneOf": ["satT", "satB"]}}],
 "mark": {"type": "area", "interpolate": "monotone", "fillOpacity": 0.85, "fill": {"gradient": "linear", "x1": 0, "y1": 0, "x2": 0, "y2": 1, "stops": [{"offset": 0, "color": "#f3a15e"}, {"offset": 1, "color": "#fff6ee"}]}},
 "encoding": {
  "x": {"field": "E", "type": "quantitative", "scale": {"domain": [791, 774], "nice": false, "zero": false},
        "axis": {"title": "Binding energy (eV)", "values": [790,789,788,787,786,785,784,783,782,781,780,779,778,777,776,775,774], "labelExpr": "datum.value % 2 === 0 ? datum.label : ''", "tickSize": {"condition": {"test": "datum.value % 2 === 0", "value": -6}, "value": -3}, "labelPadding": 12, "labelFlush": false, "labelOverlap": false, "titlePadding": 2}},
  "y": {"field": "v", "type": "quantitative", "scale": {"domain": [0, 333], "nice": false, "zero": false},
        "axis": {"title": "Intensity (a.u.)", "ticks": false, "labels": false, "titlePadding": 14}},
  "y2": {"field": "b"}, "detail": {"field": "c"}}},
{"data": {"name": "a_fit"}, "transform": [{"filter": {"field": "c", "oneOf": ["co2T", "co2B"]}}],
 "mark": {"type": "area", "interpolate": "monotone", "fillOpacity": 0.85, "fill": {"gradient": "linear", "x1": 0, "y1": 0, "x2": 0, "y2": 1, "stops": [{"offset": 0, "color": "#ee3a3a"}, {"offset": 1, "color": "#fff2f2"}]}},
 "encoding": {"x": {"field": "E", "type": "quantitative"}, "y": {"field": "v", "type": "quantitative"}, "y2": {"field": "b"}, "detail": {"field": "c"}}},
{"data": {"name": "a_fit"}, "transform": [{"filter": {"field": "c", "oneOf": ["co3T", "co3B"]}}],
 "mark": {"type": "area", "interpolate": "monotone", "fillOpacity": 0.85, "fill": {"gradient": "linear", "x1": 0, "y1": 0, "x2": 0, "y2": 1, "stops": [{"offset": 0, "color": "#2f2ff5"}, {"offset": 1, "color": "#f2f2ff"}]}},
 "encoding": {"x": {"field": "E", "type": "quantitative"}, "y": {"field": "v", "type": "quantitative"}, "y2": {"field": "b"}, "detail": {"field": "c"}}},
{"data": {"name": "a_fit"}, "transform": [{"filter": {"field": "c", "oneOf": ["bgT", "satT", "bgB", "satB"]}}],
 "mark": {"type": "line", "interpolate": "monotone", "color": "#f0892c", "strokeWidth": 1.5},
 "encoding": {"x": {"field": "E", "type": "quantitative"}, "y": {"field": "v", "type": "quantitative"}, "detail": {"field": "c"}}},
{"data": {"name": "a_fit"}, "transform": [{"filter": {"field": "c", "equal": "bg2T"}}],
 "mark": {"type": "line", "interpolate": "monotone", "color": "#b48ad0", "strokeWidth": 1.2},
 "encoding": {"x": {"field": "E", "type": "quantitative"}, "y": {"field": "v", "type": "quantitative"}}},
{"data": {"name": "a_fit"}, "transform": [{"filter": {"field": "c", "oneOf": ["co2T", "co2B"]}}],
 "mark": {"type": "line", "interpolate": "monotone", "color": "#e41e26", "strokeWidth": 1.3},
 "encoding": {"x": {"field": "E", "type": "quantitative"}, "y": {"field": "v", "type": "quantitative"}, "detail": {"field": "c"}}},
{"data": {"name": "a_fit"}, "transform": [{"filter": {"field": "c", "oneOf": ["co3T", "co3B"]}}],
 "mark": {"type": "line", "interpolate": "monotone", "color": "#1c1cf0", "strokeWidth": 1.5},
 "encoding": {"x": {"field": "E", "type": "quantitative"}, "y": {"field": "v", "type": "quantitative"}, "detail": {"field": "c"}}},
{"data": {"name": "a_fit"}, "transform": [{"filter": {"field": "c", "oneOf": ["envT", "envB"]}}],
 "mark": {"type": "line", "interpolate": "monotone", "color": "black", "strokeWidth": 2},
 "encoding": {"x": {"field": "E", "type": "quantitative"}, "y": {"field": "v", "type": "quantitative"}, "detail": {"field": "c"}}},
{"data": {"name": "a_pts"},
 "mark": {"type": "circle", "size": 62, "fill": "white", "fillOpacity": 1, "stroke": "#444444", "strokeWidth": 0.9},
 "encoding": {"x": {"field": "E", "type": "quantitative"}, "y": {"field": "h", "type": "quantitative"}}},
{"mark": {"type": "rule", "color": "black", "strokeWidth": 2.5},
 "encoding": {"y": {"datum": 171, "type": "quantitative"}}},
{"data": {"name": "a_dash"},
 "mark": {"type": "rule", "strokeDash": [6, 4], "strokeWidth": 1.6},
 "encoding": {"x": {"field": "E", "type": "quantitative"}, "y": {"field": "h1", "type": "quantitative"}, "y2": {"field": "h2"},
   "color": {"field": "sp", "type": "nominal", "scale": {"domain": ["none","Co²⁺","Co³⁺","Sat.","Li-S","Li-Se"], "range": ["#000000","#e41e26","#1c1cf0","#f0892c","#e41e26","#1c1cf0"]}, "legend": null}}},
{"data": {"name": "a_arr"},
 "mark": {"type": "rule", "strokeWidth": 1.8},
 "encoding": {"x": {"field": "E1", "type": "quantitative"}, "x2": {"field": "E2"}, "y": {"field": "h1", "type": "quantitative"}, "y2": {"field": "h2"},
   "color": {"field": "sp", "type": "nominal", "legend": null}}},
{"data": {"name": "a_arr"}, "transform": [{"filter": {"field": "id", "oneOf": ["red", "blue"]}}],
 "mark": {"type": "point", "shape": "M0,-1L0.55,1L-0.55,1Z", "filled": true, "opacity": 1, "size": 100, "angle": 90},
 "encoding": {"x": {"field": "E2", "type": "quantitative"}, "y": {"field": "h2", "type": "quantitative"}, "color": {"field": "sp", "type": "nominal", "legend": null}}},
{"data": {"name": "a_arr"}, "transform": [{"filter": {"field": "id", "equal": "down"}}],
 "mark": {"type": "point", "shape": "M0,-1L0.55,1L-0.55,1Z", "filled": true, "opacity": 1, "size": 100, "angle": 180},
 "encoding": {"x": {"field": "E2", "type": "quantitative"}, "y": {"field": "h2", "type": "quantitative"}, "color": {"field": "sp", "type": "nominal", "legend": null}}},
{"data": {"name": "a_arr"}, "transform": [{"filter": {"field": "id", "equal": "c3t"}}],
 "mark": {"type": "point", "shape": "M0,-1L0.55,1L-0.55,1Z", "filled": true, "opacity": 1, "size": 100, "angle": 215},
 "encoding": {"x": {"field": "E2", "type": "quantitative"}, "y": {"field": "h2", "type": "quantitative"}, "color": {"field": "sp", "type": "nominal", "legend": null}}},
{"data": {"name": "a_arr"}, "transform": [{"filter": {"field": "id", "equal": "c3b"}}],
 "mark": {"type": "point", "shape": "M0,-1L0.55,1L-0.55,1Z", "filled": true, "opacity": 1, "size": 80, "angle": 211},
 "encoding": {"x": {"field": "E2", "type": "quantitative"}, "y": {"field": "h2", "type": "quantitative"}, "color": {"field": "sp", "type": "nominal", "legend": null}}},
{"data": {"name": "a_text"}, "transform": [{"filter": {"field": "k", "equal": "center"}}],
 "mark": {"type": "text", "fontSize": 22, "fontWeight": "bold", "align": "center", "baseline": "middle"},
 "encoding": {"x": {"field": "E", "type": "quantitative"}, "y": {"field": "h", "type": "quantitative"}, "text": {"field": "t"}, "color": {"field": "sp", "type": "nominal", "legend": null}}},
{"data": {"name": "a_text"}, "transform": [{"filter": {"field": "k", "equal": "left"}}],
 "mark": {"type": "text", "fontSize": 21, "fontWeight": "bold", "align": "left", "baseline": "middle"},
 "encoding": {"x": {"field": "E", "type": "quantitative"}, "y": {"field": "h", "type": "quantitative"}, "text": {"field": "t"}, "color": {"field": "sp", "type": "nominal", "legend": null}}},
{"data": {"name": "a_text"}, "transform": [{"filter": {"field": "k", "equal": "sub"}}],
 "mark": {"type": "text", "fontSize": 14, "fontWeight": "bold", "align": "left", "baseline": "middle"},
 "encoding": {"x": {"field": "E", "type": "quantitative"}, "y": {"field": "h", "type": "quantitative"}, "text": {"field": "t"}, "color": {"field": "sp", "type": "nominal", "legend": null}}},
{"data": {"name": "a_text"}, "transform": [{"filter": {"field": "k", "equal": "ratio"}}],
 "mark": {"type": "text", "fontSize": 17, "fontWeight": "bold", "align": "center", "baseline": "middle"},
 "encoding": {"x": {"field": "E", "type": "quantitative"}, "y": {"field": "h", "type": "quantitative"}, "text": {"field": "t"}, "color": {"field": "sp", "type": "nominal", "legend": null}}},
{"data": {"name": "a_text"}, "transform": [{"filter": {"field": "k", "equal": "plus"}}],
 "mark": {"type": "text", "fontSize": 20, "fontWeight": "bold", "align": "center", "baseline": "middle"},
 "encoding": {"x": {"field": "E", "type": "quantitative"}, "y": {"field": "h", "type": "quantitative"}, "text": {"field": "t"}, "color": {"field": "sp", "type": "nominal", "legend": null}}}
]
},
{
"width": 478, "height": 333,
"title": {"text": "(b)", "anchor": "start", "frame": "group", "dx": -50, "offset": 0, "fontSize": 36, "fontWeight": "bold", "font": "Liberation Sans", "color": "black"},
"layer": [
{"data": {"name": "b_fit"}, "transform": [{"filter": {"field": "c", "equal": "liseB"}}],
 "mark": {"type": "area", "interpolate": "monotone", "fillOpacity": 0.8, "fill": {"gradient": "linear", "x1": 0, "y1": 0, "x2": 0, "y2": 1, "stops": [{"offset": 0, "color": "#2f2ff5"}, {"offset": 1, "color": "#f4f4ff"}]}},
 "encoding": {
  "x": {"field": "E", "type": "quantitative", "scale": {"domain": [59, 52], "nice": false, "zero": false},
        "axis": {"title": "Binding energy (eV)", "format": "d", "values": [59,58.5,58,57.5,57,56.5,56,55.5,55,54.5,54,53.5,53,52.5,52], "labelExpr": "datum.value % 1 === 0 ? datum.label : ''", "tickSize": {"condition": {"test": "datum.value % 1 === 0", "value": -6}, "value": -3}, "labelPadding": 12, "labelFlush": false, "labelOverlap": false, "titlePadding": 2}},
  "y": {"field": "v", "type": "quantitative", "scale": {"domain": [0, 333], "nice": false, "zero": false},
        "axis": {"title": "Intensity (a.u.)", "ticks": false, "labels": false, "titlePadding": 14}},
  "y2": {"field": "b"}}},
{"data": {"name": "b_fit"}, "transform": [{"filter": {"field": "c", "oneOf": ["lisT", "lisB"]}}],
 "mark": {"type": "area", "interpolate": "monotone", "fillOpacity": 0.75, "fill": {"gradient": "linear", "x1": 0, "y1": 0, "x2": 0, "y2": 1, "stops": [{"offset": 0, "color": "#ee3a3a"}, {"offset": 1, "color": "#fff4f4"}]}},
 "encoding": {"x": {"field": "E", "type": "quantitative"}, "y": {"field": "v", "type": "quantitative"}, "y2": {"field": "b"}, "detail": {"field": "c"}}},
{"data": {"name": "b_fit"}, "transform": [{"filter": {"field": "c", "oneOf": ["bgT", "bgB", "lisB", "lisT"]}}],
 "mark": {"type": "line", "interpolate": "monotone", "color": "#e41e26", "strokeWidth": 1.5},
 "encoding": {"x": {"field": "E", "type": "quantitative"}, "y": {"field": "v", "type": "quantitative"}, "detail": {"field": "c"}}},
{"data": {"name": "b_fit"}, "transform": [{"filter": {"field": "c", "equal": "liseB"}}],
 "mark": {"type": "line", "interpolate": "monotone", "color": "#1c1cf0", "strokeWidth": 1.5},
 "encoding": {"x": {"field": "E", "type": "quantitative"}, "y": {"field": "v", "type": "quantitative"}}},
{"data": {"name": "b_fit"}, "transform": [{"filter": {"field": "c", "equal": "envB"}}],
 "mark": {"type": "line", "interpolate": "monotone", "color": "black", "strokeWidth": 2},
 "encoding": {"x": {"field": "E", "type": "quantitative"}, "y": {"field": "v", "type": "quantitative"}}},
{"data": {"name": "b_pts"},
 "mark": {"type": "circle", "size": 50, "fill": "white", "fillOpacity": 1, "stroke": "#444444", "strokeWidth": 0.9},
 "encoding": {"x": {"field": "E", "type": "quantitative"}, "y": {"field": "h", "type": "quantitative"}}},
{"mark": {"type": "rule", "color": "black", "strokeWidth": 2.5},
 "encoding": {"y": {"datum": 176, "type": "quantitative"}}},
{"data": {"name": "b_arr"},
 "mark": {"type": "rule", "strokeWidth": 1.8},
 "encoding": {"x": {"field": "E1", "type": "quantitative"}, "x2": {"field": "E2"}, "y": {"field": "h1", "type": "quantitative"}, "y2": {"field": "h2"},
   "color": {"field": "sp", "type": "nominal", "scale": {"domain": ["none","Co²⁺","Co³⁺","Sat.","Li-S","Li-Se"], "range": ["#000000","#e41e26","#1c1cf0","#f0892c","#e41e26","#1c1cf0"]}, "legend": null}}},
{"data": {"name": "b_arr"}, "transform": [{"filter": {"field": "id", "equal": "down"}}],
 "mark": {"type": "point", "shape": "M0,-1L0.55,1L-0.55,1Z", "filled": true, "opacity": 1, "size": 100, "angle": 180},
 "encoding": {"x": {"field": "E2", "type": "quantitative"}, "y": {"field": "h2", "type": "quantitative"}, "color": {"field": "sp", "type": "nominal", "legend": null}}},
{"data": {"name": "b_arr"}, "transform": [{"filter": {"field": "id", "equal": "lisT"}}],
 "mark": {"type": "point", "shape": "M0,-1L0.55,1L-0.55,1Z", "filled": true, "opacity": 1, "size": 100, "angle": 198},
 "encoding": {"x": {"field": "E2", "type": "quantitative"}, "y": {"field": "h2", "type": "quantitative"}, "color": {"field": "sp", "type": "nominal", "legend": null}}},
{"data": {"name": "b_arr"}, "transform": [{"filter": {"field": "id", "equal": "lisB"}}],
 "mark": {"type": "point", "shape": "M0,-1L0.55,1L-0.55,1Z", "filled": true, "opacity": 1, "size": 100, "angle": 144},
 "encoding": {"x": {"field": "E2", "type": "quantitative"}, "y": {"field": "h2", "type": "quantitative"}, "color": {"field": "sp", "type": "nominal", "legend": null}}},
{"data": {"name": "b_arr"}, "transform": [{"filter": {"field": "id", "equal": "lise"}}],
 "mark": {"type": "point", "shape": "M0,-1L0.55,1L-0.55,1Z", "filled": true, "opacity": 1, "size": 100, "angle": 209},
 "encoding": {"x": {"field": "E2", "type": "quantitative"}, "y": {"field": "h2", "type": "quantitative"}, "color": {"field": "sp", "type": "nominal", "legend": null}}},
{"data": {"name": "b_text"}, "transform": [{"filter": {"field": "k", "equal": "center"}}],
 "mark": {"type": "text", "fontSize": 22, "fontWeight": "bold", "align": "center", "baseline": "middle"},
 "encoding": {"x": {"field": "E", "type": "quantitative"}, "y": {"field": "h", "type": "quantitative"}, "text": {"field": "t"}, "color": {"field": "sp", "type": "nominal", "legend": null}}},
{"data": {"name": "b_text"}, "transform": [{"filter": {"field": "k", "equal": "left"}}],
 "mark": {"type": "text", "fontSize": 22, "fontWeight": "bold", "align": "left", "baseline": "middle"},
 "encoding": {"x": {"field": "E", "type": "quantitative"}, "y": {"field": "h", "type": "quantitative"}, "text": {"field": "t"}, "color": {"field": "sp", "type": "nominal", "legend": null}}},
{"data": {"name": "b_text"}, "transform": [{"filter": {"field": "k", "equal": "right"}}],
 "mark": {"type": "text", "fontSize": 22, "fontWeight": "bold", "align": "right", "baseline": "middle"},
 "encoding": {"x": {"field": "E", "type": "quantitative"}, "y": {"field": "h", "type": "quantitative"}, "text": {"field": "t"}, "color": {"field": "sp", "type": "nominal", "legend": null}}},
{"data": {"name": "b_text"}, "transform": [{"filter": {"field": "k", "equal": "plus"}}],
 "mark": {"type": "text", "fontSize": 20, "fontWeight": "bold", "align": "center", "baseline": "middle"},
 "encoding": {"x": {"field": "E", "type": "quantitative"}, "y": {"field": "h", "type": "quantitative"}, "text": {"field": "t"}, "color": {"field": "sp", "type": "nominal", "legend": null}}}
]
}
]
}
